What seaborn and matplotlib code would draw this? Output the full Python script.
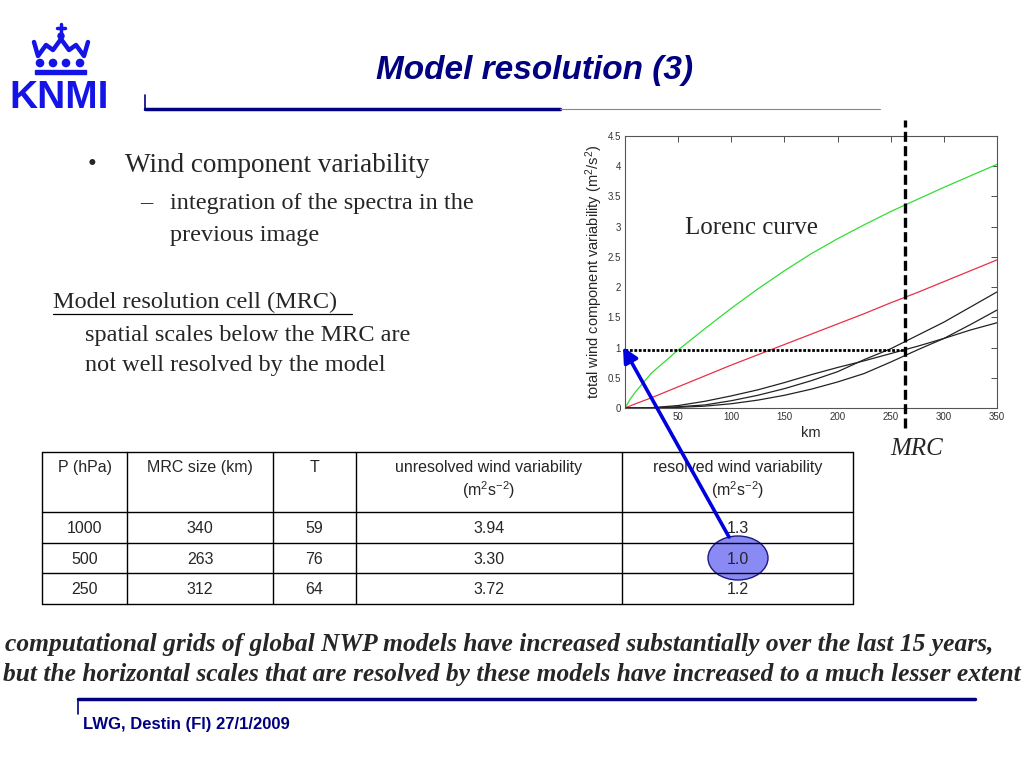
import numpy as np
import pandas as pd
import seaborn as sns
import matplotlib.pyplot as plt
from matplotlib.patches import Ellipse, Circle, Rectangle

# Chart data
km = [0, 5, 10, 25, 50, 75, 100, 125, 150, 175, 200, 225, 250, 275, 300, 325, 350]
lorenc = [0, 0.15, 0.27, 0.58, 0.96, 1.31, 1.65, 1.97, 2.27, 2.55, 2.8, 3.03, 3.25, 3.45, 3.65, 3.84, 4.03]
red_line = [0, 0.035, 0.07, 0.17, 0.35, 0.53, 0.71, 0.88, 1.05, 1.22, 1.39, 1.56, 1.74, 1.91, 2.09, 2.27, 2.45]
black_a = [0, 0, 0, 0.005, 0.04, 0.11, 0.2, 0.3, 0.42, 0.55, 0.67, 0.78, 0.9, 1.02, 1.15, 1.29, 1.41]
black_b = [0, 0, 0, 0, 0.02, 0.05, 0.12, 0.21, 0.32, 0.45, 0.6, 0.8, 0.98, 1.2, 1.42, 1.67, 1.92]
black_c = [0, 0, 0, 0, 0.01, 0.03, 0.07, 0.13, 0.21, 0.31, 0.43, 0.57, 0.76, 0.96, 1.15, 1.38, 1.62]
mrc_km = 263
resolved_level = 0.96

# Table data
col_headers = ["P (hPa)", "MRC size (km)", "T",
               "unresolved wind variability\n(m$^2$s$^{-2}$)",
               "resolved wind variability\n(m$^2$s$^{-2}$)"]
pressure = ["1000", "500", "250"]
mrc_size = ["340", "263", "312"]
t_vals = ["59", "76", "64"]
unresolved = ["3.94", "3.30", "3.72"]
resolved = ["1.3", "1.0", "1.2"]

curves = {"lorenc": lorenc, "red": red_line, "a": black_a, "b": black_b, "c": black_c}
df = pd.concat([pd.DataFrame({"km": km, "var": v, "curve": k}) for k, v in curves.items()])
palette = {"lorenc": "#33dd33", "red": "#e8304a", "a": "#222222", "b": "#222222", "c": "#222222"}

sns.set_style("white")
plt.rcParams['font.family'] = ['Liberation Sans', 'DejaVu Sans']
plt.rcParams['mathtext.fontset'] = 'custom'
plt.rcParams['mathtext.rm'] = 'Liberation Sans'
plt.rcParams['mathtext.it'] = 'Liberation Sans:italic'

fig = plt.figure(figsize=(10.24, 7.68), dpi=100)
ax = fig.add_axes([0.6104, 0.4688, 0.3633, 0.3542])
sns.lineplot(data=df, x="km", y="var", hue="curve", palette=palette, legend=False,
             ax=ax, linewidth=0.9)
ax.set_xlim(0, 350)
ax.set_ylim(0, 4.5)
ax.set_xticks([50, 100, 150, 200, 250, 300, 350])
ax.set_yticks([0, 0.5, 1, 1.5, 2, 2.5, 3, 3.5, 4, 4.5])
ax.set_yticklabels(["0", "0.5", "1", "1.5", "2", "2.5", "3", "3.5", "4", "4.5"])
ax.tick_params(direction="in", top=True, right=True, length=4, width=0.6,
               labelsize=7, colors="#333333", pad=3)
for s in ax.spines.values():
    s.set_linewidth(0.8)
    s.set_color("#555555")
ax.set_xlabel("km", fontsize=10.5, labelpad=3)
ax.set_ylabel("total wind component variability (m$^2$/s$^2$)", fontsize=10.5, labelpad=2)
ax.set_facecolor("none")

# MRC dashed line and resolved level dotted line
ax.plot([mrc_km, mrc_km], [-0.33, 4.77], color="black", lw=2.4, ls=(0, (3, 1.3)),
        clip_on=False, zorder=5)
ax.plot([0, mrc_km], [resolved_level, resolved_level], color="black", lw=2.0,
        ls=(0, (1, 0.6)), zorder=5)
ax.text(56, 2.98, "Lorenc curve", fontsize=18, family="Liberation Serif", ha="left", va="center")

# overlay axes in pixel coordinates for slide decoration
bg = fig.add_axes([0, 0, 1, 1], zorder=10)
bg.set_xlim(0, 1024)
bg.set_ylim(768, 0)
bg.axis("off")
bg.set_facecolor("none")

navy = "#000080"
blue = "#1414e6"

# logo
bg.text(9, 108, "KNMI", fontsize=28, weight="bold", color=blue, ha="left", va="baseline")
for cx in [40, 53, 66, 80]:
    bg.add_patch(Circle((cx, 63), 3.6, color=blue))
bg.add_patch(Rectangle((35, 70), 51, 3.5, color=blue))
bg.plot([34, 38, 46, 53, 61, 69, 76, 84, 88], [42, 56, 45, 50, 39, 50, 45, 56, 42],
        color=blue, lw=3.2, solid_joinstyle="round")
bg.plot([61, 61], [24, 38], color=blue, lw=2.5)
bg.plot([57, 65], [28, 28], color=blue, lw=2.5)
bg.add_patch(Circle((61, 36), 3, color=blue))

# title and header line
bg.text(535, 70, "Model resolution (3)", fontsize=24, weight="bold", style="italic",
        color=navy, ha="center", va="center")
bg.plot([145, 145], [95, 110], color=navy, lw=1.2)
bg.plot([145, 560], [109, 109], color=navy, lw=2.5)
bg.plot([560, 880], [108.5, 108.5], color="#888888", lw=0.8)

# bullet text
serif = "Liberation Serif"
bg.text(88, 165, "\u2022", fontsize=18, family=serif, va="center")
bg.text(125, 165, "Wind component variability", fontsize=19.5, family=serif, va="center")
bg.text(140, 204, "\u2013", fontsize=17.5, family=serif, va="center")
bg.text(170, 204, "integration of the spectra in the", fontsize=17.5, family=serif, va="center")
bg.text(170, 235, "previous image", fontsize=17.5, family=serif, va="center")
bg.text(53, 302, "Model resolution cell (MRC)", fontsize=17.5, family=serif, va="center")
bg.plot([53, 352], [314, 314], color="black", lw=0.9)
bg.text(85, 335, "spatial scales below the MRC are", fontsize=17.5, family=serif, va="center")
bg.text(85, 365, "not well resolved by the model", fontsize=17.5, family=serif, va="center")

bg.text(917, 449, "MRC", fontsize=18, family=serif, style="italic", ha="center", va="center")

# table
col_x = [42, 127, 273, 356, 622, 853]
row_y = [452, 512, 543, 573, 604]
for x in col_x:
    bg.plot([x, x], [row_y[0], row_y[-1]], color="black", lw=1.0)
for y in row_y:
    bg.plot([col_x[0], col_x[-1]], [y, y], color="black", lw=1.0)
centers = [(col_x[i] + col_x[i + 1]) / 2 for i in range(5)]
for c, h in zip(centers, col_headers):
    bg.text(c, 460, h, fontsize=11.5, ha="center", va="top", linespacing=1.25)
rows = list(zip(pressure, mrc_size, t_vals, unresolved, resolved))
for r, row in enumerate(rows):
    yc = (row_y[r + 1] + row_y[r + 2]) / 2
    for c, val in zip(centers, row):
        bg.text(c, yc + 1, val, fontsize=11.5, ha="center", va="center")

# highlight circle and arrow
bg.add_patch(Ellipse((738, 558), 60, 44, facecolor=(0.35, 0.35, 0.95, 0.7),
                     edgecolor="#1a1a80", lw=1.0))
bg.annotate("", xy=(623, 347), xytext=(729, 537),
            arrowprops=dict(arrowstyle="-|>,head_length=0.9,head_width=0.45",
                            color="#0000dd", lw=2.6, shrinkA=0, shrinkB=0))

# bottom statement
bg.text(5, 645, "computational grids of global NWP models have increased substantially over the last 15 years,",
        fontsize=18.4, family=serif, weight="bold", style="italic", va="center")
bg.text(3, 675, "but the horizontal scales that are resolved by these models have increased to a much lesser extent",
        fontsize=18.4, family=serif, weight="bold", style="italic", va="center")

# footer
bg.plot([78, 975], [699, 699], color=navy, lw=2.5)
bg.plot([78, 78], [699, 714], color=navy, lw=1.2)
bg.text(83, 724, "LWG, Destin (Fl) 27/1/2009", fontsize=12, weight="bold", color=navy, va="center")

fig.savefig("out.png", dpi=100)
